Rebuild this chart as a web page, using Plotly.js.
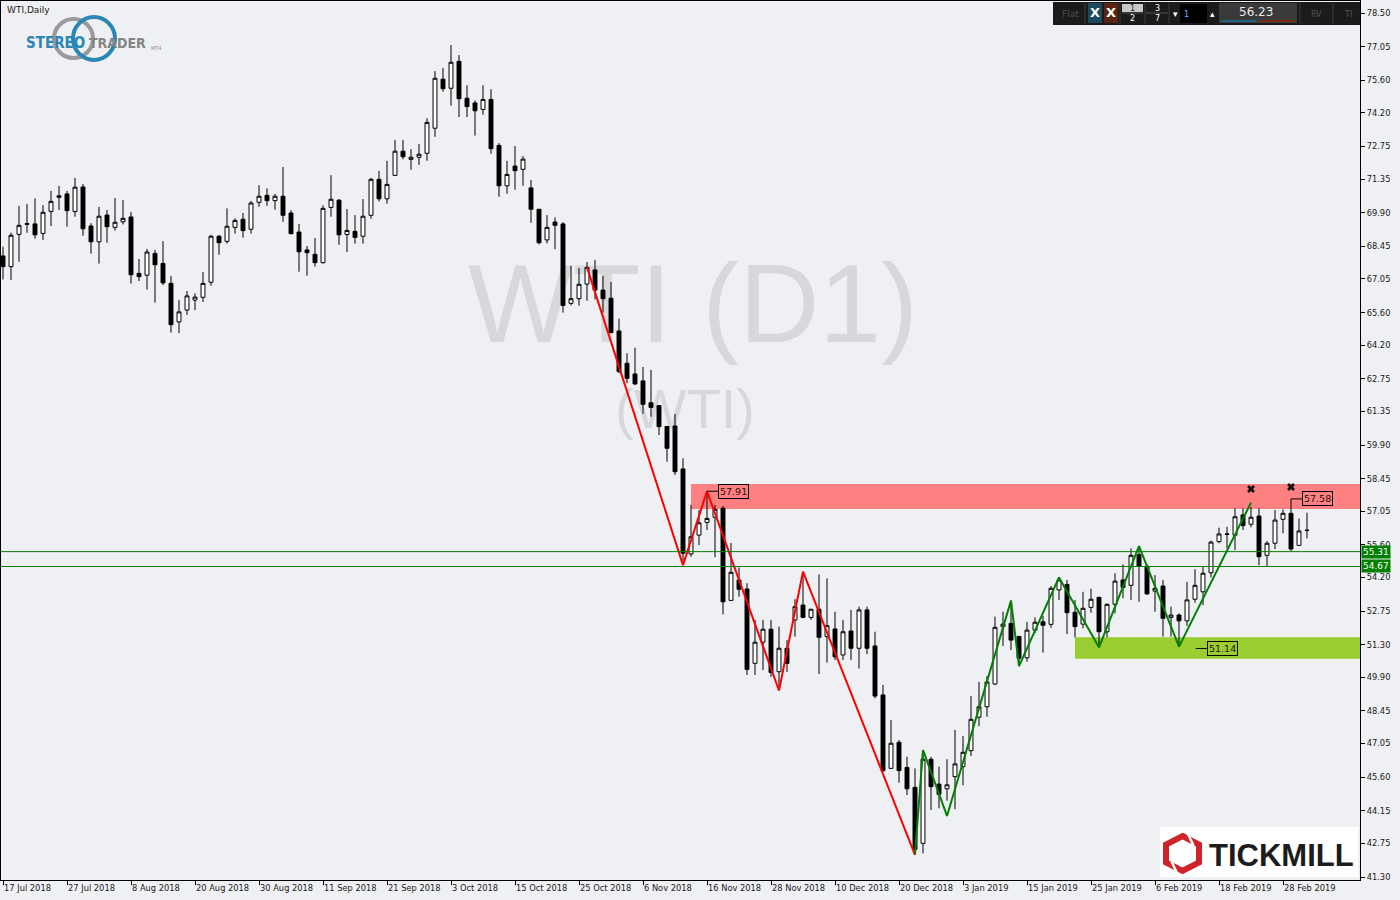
<!DOCTYPE html>
<html>
<head>
<meta charset="utf-8">
<script src="https://cdn.plot.ly/plotly-3.0.1.min.js"></script>
<style>
  html, body { margin: 0; padding: 0; background: #eff0f3; }
  #chart { width: 1400px; height: 900px; }
</style>
</head>
<body>
<div id="chart"></div>
<script>
// WTI daily candles, bar 0 = 17 Jul 2018 ... bar 163 = 5 Mar 2019
const open = [
  68.04,67.58,68.97,69.40,69.42,69.01,69.96,70.63,70.71,69.95,
  71.01,69.33,68.65,69.80,69.27,69.51,69.72,67.29,67.21,68.15,
  67.72,66.86,65.20,65.71,66.14,66.26,66.91,68.89,68.67,69.27,
  69.62,69.19,70.35,70.65,70.42,70.61,69.89,69.07,68.30,68.11,
  67.75,70.13,70.44,68.96,69.10,68.89,69.79,71.34,70.50,71.51,
  72.55,72.20,72.29,72.46,73.54,75.65,75.26,76.42,74.83,74.63,
  74.35,74.78,72.80,71.06,71.91,71.77,70.97,70.05,68.73,69.50,
  69.42,66.00,66.20,66.83,67.44,66.57,66.22,64.81,63.42,62.96,
  62.66,61.72,61.60,60.70,60.72,58.87,55.21,56.02,56.57,56.79,
  57.18,53.21,54.09,53.70,50.50,51.41,51.97,50.14,51.15,52.37,
  53.01,52.48,52.83,51.65,51.98,50.86,51.89,51.15,52.80,51.25,
  49.14,45.98,47.10,46.02,45.16,42.75,46.37,45.30,45.10,45.62,
  46.05,46.74,48.18,48.63,49.61,52.08,52.22,51.66,50.74,51.93,
  52.29,52.18,53.66,53.90,52.70,52.19,52.91,53.34,51.86,53.04,
  54.09,53.86,55.18,54.69,53.61,53.83,52.48,52.58,52.33,53.26,
  53.58,54.40,55.74,56.05,56.02,56.89,56.49,56.84,55.15,55.67,
  56.70,56.96,55.58,56.22
];
const high = [
  68.44,69.04,70.20,70.28,70.52,70.23,70.84,71.05,70.84,71.40,
  71.14,69.45,70.15,70.02,70.53,70.45,69.93,67.91,68.34,68.30,
  68.68,67.18,66.14,66.53,66.43,67.35,68.95,68.94,70.09,69.66,
  69.89,70.41,71.09,70.95,70.71,71.87,70.01,69.42,68.47,68.81,
  70.22,71.52,70.49,70.06,69.80,70.49,71.40,71.70,72.13,73.03,
  73.03,72.64,72.86,73.97,76.00,76.13,77.12,76.69,75.39,74.74,
  75.39,75.22,72.90,72.13,72.77,72.34,71.31,70.06,69.80,69.70,
  69.49,67.61,67.52,67.78,67.87,67.18,66.92,65.34,63.85,64.09,
  63.26,63.13,61.62,60.72,61.24,59.33,57.32,57.10,57.91,57.32,
  57.27,55.68,54.63,53.95,52.37,52.37,52.37,52.08,51.50,53.26,
  54.45,52.84,54.33,54.16,52.72,52.37,52.80,52.94,52.94,51.86,
  49.57,48.06,47.20,46.48,45.98,46.55,46.48,46.05,46.37,47.63,
  47.37,49.09,49.70,49.95,52.51,52.72,53.20,51.68,52.29,52.48,
  52.54,53.83,54.20,54.09,53.23,53.58,53.71,53.37,53.08,54.38,
  54.76,55.45,55.55,54.72,54.30,54.09,52.94,52.65,54.01,54.55,
  54.66,55.78,56.34,56.38,57.17,57.17,57.23,57.17,55.77,57.10,
  57.13,57.58,56.74,56.98
];
const low = [
  67.03,67.00,67.79,69.04,68.78,68.73,69.33,70.02,69.30,69.73,
  68.91,68.14,67.71,68.61,69.13,69.40,66.85,66.96,66.59,66.03,
  66.79,64.74,64.72,65.50,65.71,66.06,66.76,68.09,68.57,69.00,
  68.83,69.00,70.16,70.20,70.03,69.51,68.97,67.36,67.19,67.58,
  67.71,69.73,68.52,68.21,68.57,68.57,69.64,70.38,70.29,71.48,
  72.20,71.75,71.96,72.14,73.17,75.11,74.51,74.02,74.02,73.22,
  74.12,72.44,70.59,70.72,70.89,71.06,69.47,68.54,68.58,68.33,
  65.60,65.91,65.90,66.11,66.17,65.60,64.71,62.99,62.56,62.48,
  61.25,61.12,60.33,59.18,58.61,54.73,55.09,55.59,56.24,55.07,
  52.61,53.20,53.37,50.00,50.00,50.21,49.92,49.33,50.13,51.65,
  52.44,52.37,50.04,50.53,50.64,50.64,50.64,50.28,50.90,48.99,
  45.83,45.95,45.36,44.83,42.25,42.32,44.19,44.26,44.59,44.22,
  45.25,46.51,47.80,48.20,49.57,51.25,51.07,50.38,50.57,51.81,
  50.96,52.03,53.23,51.76,51.62,52.01,52.68,51.19,51.62,52.65,
  53.30,53.23,53.15,53.44,52.72,51.65,51.65,51.22,52.11,53.11,
  53.01,54.20,55.67,55.45,55.38,56.24,56.36,54.73,54.69,55.42,
  56.10,55.34,55.57,55.88
];
const close = [
  67.58,68.93,69.36,69.43,68.95,69.92,70.39,70.57,69.99,71.00,
  69.21,68.65,69.75,69.30,69.49,69.66,67.23,67.15,68.21,67.66,
  66.88,65.08,65.63,66.32,66.27,66.86,68.89,68.61,69.32,69.57,
  69.13,70.32,70.61,70.42,70.61,69.79,69.00,68.22,68.18,67.75,
  70.09,70.48,68.95,69.14,68.84,69.75,71.34,70.50,71.12,72.55,
  72.31,72.29,72.42,73.79,75.69,75.24,76.38,74.81,74.47,74.29,
  74.78,72.66,71.06,71.55,71.71,72.21,70.05,68.61,69.27,69.36,
  65.91,66.20,66.82,67.55,66.57,66.20,64.74,63.06,62.77,62.53,
  61.65,61.52,60.69,59.76,58.75,55.24,55.95,56.55,56.74,57.13,
  53.15,54.42,53.69,50.24,51.41,51.97,50.11,51.15,50.50,52.94,
  52.48,52.83,51.62,52.12,50.78,51.86,51.15,52.80,51.15,49.09,
  45.88,47.06,45.88,45.10,42.49,46.37,45.19,44.86,45.27,46.17,
  46.67,48.09,48.63,49.70,52.05,52.19,51.50,50.72,51.93,52.27,
  52.14,53.73,54.09,52.68,52.08,52.87,53.26,51.86,53.04,54.04,
  53.77,55.15,54.69,53.49,53.73,52.44,52.58,52.33,53.23,53.86,
  54.38,55.72,56.07,56.07,56.81,56.43,56.79,55.09,55.67,56.67,
  56.96,55.42,56.20,56.23
];
const bars = open.map((_, i) => i);

// Time axis labels, one every eighth bar
const dateTickBars = [0,8,16,24,32,40,48,56,64,72,80,88,96,104,112,120,128,136,144,152,160];
const dateTickLabels = [
  '17 Jul 2018','27 Jul 2018','8 Aug 2018','20 Aug 2018','30 Aug 2018','11 Sep 2018',
  '21 Sep 2018','3 Oct 2018','15 Oct 2018','25 Oct 2018','6 Nov 2018','16 Nov 2018',
  '28 Nov 2018','10 Dec 2018','20 Dec 2018','3 Jan 2019','15 Jan 2019','25 Jan 2019',
  '6 Feb 2019','18 Feb 2019','28 Feb 2019'
];
const priceTicks = [78.50,77.05,75.60,74.20,72.75,71.35,69.90,68.45,67.05,65.60,64.20,62.75,61.35,
  59.90,58.45,57.05,55.60,54.20,52.75,51.30,49.90,48.45,47.05,45.60,44.15,42.75,41.30];

// Swing lines
const downSwingBars = [73, 85, 88, 97, 100, 114];
const downSwingPrices = [67.55, 54.73, 57.91, 49.33, 54.45, 42.25];
const upSwingBars = [114, 115, 118, 126, 127, 132, 137, 142, 147, 156];
const upSwingPrices = [42.30, 46.77, 43.93, 53.20, 50.38, 54.20, 51.19, 55.55, 51.22, 57.42];

// Resistance / support zones and levels
const resistanceZone = [57.14, 58.22];
const resistanceStartBar = 86;
const supportZone = [50.70, 51.62];
const supportStartBar = 134;
const levelLines = [55.31, 54.67];
const crossBars = [156, 161];
const crossPrices = [58.01, 58.09];
const priceNotes = [
  {bar: 88, price: 57.91},
  {bar: 161, price: 57.58},
  {bar: 149.1, price: 51.14}
];
const lastPrice = 56.23;

// ---- geometry helpers (pixel -> paper) ----
const PL = 1, PR = 1360, PT = 1, PB = 880;
const X_RANGE = [-0.25, 169.625];
const Y_RANGE = [41.172, 79.017];
const fx = p => (p - PL) / (PR - PL);
const fy = p => (PB - p) / (PB - PT);
const BAR_PX = (PR - PL) / (X_RANGE[1] - X_RANGE[0]);

const TICK_FONT = 'DejaVu Sans, Verdana, sans-serif';
const SANS = 'Liberation Sans, Arial, sans-serif';
const NARROW = 'Liberation Sans Narrow, DejaVu Sans Condensed, sans-serif';

function rect(x0, y0, x1, y1, fill, extra) {
  return Object.assign({type: 'rect', xref: 'paper', yref: 'paper',
    x0: fx(x0), x1: fx(x1), y0: fy(y1), y1: fy(y0),
    fillcolor: fill, line: {width: 0}, layer: 'above'}, extra || {});
}
function seg(x0, y0, x1, y1, color, width) {
  return {type: 'line', xref: 'paper', yref: 'paper', x0: fx(x0), y0: fy(y0), x1: fx(x1), y1: fy(y1),
    line: {color: color, width: width}, layer: 'above'};
}
function txt(x, y, text, size, color, extra) {
  return Object.assign({xref: 'paper', yref: 'paper', x: fx(x), y: fy(y), text: text,
    showarrow: false, xanchor: 'center', yanchor: 'middle',
    font: {family: TICK_FONT, size: size, color: color}}, extra || {});
}

const shapes = [];
const annotations = [];

// Watermark (below the candles)
shapes.push({type: 'rect', xref: 'paper', yref: 'paper', layer: 'below',
  x0: fx(493), x1: fx(893), y0: fy(353), y1: fy(233), line: {width: 0}, fillcolor: 'rgba(0,0,0,0)',
  label: {text: 'WTI (D1)', textposition: 'middle center',
    font: {family: SANS, size: 111, color: '#d7d8db'}}});
shapes.push({type: 'rect', xref: 'paper', yref: 'paper', layer: 'below',
  x0: fx(605), x1: fx(765), y0: fy(436), y1: fy(371), line: {width: 0}, fillcolor: 'rgba(0,0,0,0)',
  label: {text: '(WTI)', textposition: 'middle center',
    font: {family: SANS, size: 56, color: '#d7d8db'}}});

// Zones
shapes.push({type: 'rect', xref: 'x', yref: 'y', layer: 'below',
  x0: resistanceStartBar, x1: X_RANGE[1], y0: resistanceZone[0], y1: resistanceZone[1],
  fillcolor: '#ff8080', line: {width: 0}});
shapes.push({type: 'rect', xref: 'x', yref: 'y', layer: 'below',
  x0: supportStartBar, x1: X_RANGE[1], y0: supportZone[0], y1: supportZone[1],
  fillcolor: '#9acd32', line: {width: 0}});

// Horizontal levels
levelLines.forEach(v => {
  shapes.push({type: 'line', xref: 'paper', yref: 'y', x0: 0, x1: 1, y0: v, y1: v,
    line: {color: '#008000', width: 1}, layer: 'above'});
  annotations.push({xref: 'paper', yref: 'y', x: fx(1361), y: v, xanchor: 'left', yanchor: 'middle',
    text: v.toFixed(2), showarrow: false, bgcolor: '#008000', borderpad: 1,
    font: {family: TICK_FONT, size: 9, color: '#ffffff'}});
});

// Price notes with connectors
priceNotes.forEach(n => {
  const labelBar = n.bar + 11 / BAR_PX;
  shapes.push({type: 'line', xref: 'x', yref: 'y', x0: n.bar, x1: labelBar, y0: n.price, y1: n.price,
    line: {color: '#000', width: 1}, layer: 'above'});
  annotations.push({xref: 'x', yref: 'y', x: labelBar, y: n.price, xanchor: 'left', yanchor: 'middle',
    text: n.price.toFixed(2), showarrow: false, bordercolor: '#000', borderwidth: 1, borderpad: 1,
    font: {family: TICK_FONT, size: 9.5, color: '#2a0d0d'}});
});

// Chart caption and logo, top-left
annotations.push(txt(5, 10, 'WTI,Daily', 9, '#1a1a1a', {xanchor: 'left'}));
shapes.push({type: 'circle', xref: 'paper', yref: 'paper', layer: 'above',
  x0: fx(54), x1: fx(93), y0: fy(58), y1: fy(19), line: {color: '#9a9a9a', width: 4}});
shapes.push({type: 'circle', xref: 'paper', yref: 'paper', layer: 'above',
  x0: fx(73), x1: fx(115), y0: fy(60), y1: fy(17), line: {color: '#2a86b5', width: 4}});
annotations.push(txt(87, 43, '<b>STEREO</b>', 15, '#2a86b5',
  {xanchor: 'right', font: {family: NARROW, size: 15, color: '#2a86b5'}}));
annotations.push(txt(87, 43, '<b>TRADER</b>', 14, '#858585',
  {xanchor: 'left', font: {family: NARROW, size: 14, color: '#858585'}}));
annotations.push(txt(149, 48, 'MT4', 5, '#8a8a8a', {xanchor: 'left'}));

// Trading toolbar, top-right
shapes.push(rect(1053, 2, 1360, 25, '#1b1b1b'));
shapes.push(seg(1085, 3, 1085, 24, '#3a3a3a', 1));
shapes.push(rect(1088, 3, 1102, 23, '#1d4a5e'));
shapes.push(rect(1104, 3, 1118, 23, '#5b2412'));
shapes.push(rect(1122, 4, 1143, 12, '#c8c8c8'));
shapes.push(seg(1122, 13, 1143, 13, '#555', 1));
shapes.push(seg(1146, 13, 1168, 13, '#555', 1));
shapes.push(seg(1120, 3, 1120, 24, '#3a3a3a', 1));
shapes.push(seg(1145, 3, 1145, 24, '#3a3a3a', 1));
shapes.push(seg(1169, 3, 1169, 24, '#3a3a3a', 1));
shapes.push(rect(1180, 4, 1207, 23, '#000000'));
shapes.push(rect(1219, 3, 1297, 23, '#3a3a3a'));
shapes.push(rect(1221, 20, 1256, 22, '#1f6286'));
shapes.push(rect(1260, 20, 1294, 22, '#7c2b12'));
shapes.push(seg(1300, 3, 1300, 24, '#3a3a3a', 1));
shapes.push(seg(1333, 3, 1333, 24, '#3a3a3a', 1));
annotations.push(txt(1070, 14, 'Flat', 9, '#4d4d4d'));
annotations.push(txt(1095, 13, '<b>X</b>', 13, '#ffffff'));
annotations.push(txt(1111, 13, '<b>X</b>', 13, '#ffffff'));
annotations.push(txt(1132, 8, '1', 8, '#222'));
annotations.push(txt(1132, 18, '2', 8, '#ffffff'));
annotations.push(txt(1157, 8, '3', 8, '#ffffff'));
annotations.push(txt(1157, 18, '7', 8, '#ffffff'));
annotations.push(txt(1175, 14, '▾', 9, '#ffffff'));
annotations.push(txt(1182, 14, '1', 8, '#6fb4ff', {xanchor: 'left'}));
annotations.push(txt(1212, 14, '▴', 9, '#ffffff'));
annotations.push(txt(1256, 12, lastPrice.toFixed(2), 12, '#e8e8e8'));
annotations.push(txt(1316, 14, 'RV', 8, '#555'));
annotations.push(txt(1348, 14, 'TI', 8, '#555'));

// Broker logo, bottom-right
shapes.push(rect(1160, 827, 1358, 877, '#ffffff'));
const hex = [[1182.5, 836], [1199, 844.5], [1199, 862.5], [1182.5, 871], [1166, 862.5], [1166, 844.5]];
shapes.push({type: 'path', xref: 'paper', yref: 'paper', layer: 'above',
  path: 'M' + hex.map(p => fx(p[0]) + ',' + fy(p[1])).join(' L') + ' Z',
  line: {color: '#cf2229', width: 6}, fillcolor: 'rgba(0,0,0,0)'});
shapes.push(seg(1188, 834, 1193.5, 845.5, '#ffffff', 2.5));
shapes.push(seg(1171.5, 861.5, 1177, 873, '#ffffff', 2.5));
annotations.push(txt(1281, 855, '<b>TICKMILL</b>', 31, '#1c1c1c', {font: {family: SANS, size: 31, color: '#1c1c1c'}}));

const traces = [
  {
    type: 'candlestick', x: bars, open: open, high: high, low: low, close: close,
    increasing: {line: {color: '#000000', width: 1}, fillcolor: '#ffffff'},
    decreasing: {line: {color: '#000000', width: 1}, fillcolor: '#000000'},
    whiskerwidth: 0, hoverinfo: 'skip', showlegend: false
  },
  {type: 'scatter', mode: 'lines', x: downSwingBars, y: downSwingPrices,
    line: {color: '#ff0000', width: 2}, hoverinfo: 'skip', showlegend: false},
  {type: 'scatter', mode: 'lines', x: upSwingBars, y: upSwingPrices,
    line: {color: '#008000', width: 2}, hoverinfo: 'skip', showlegend: false},
  {type: 'scatter', mode: 'markers', x: crossBars, y: crossPrices,
    marker: {symbol: 'x', size: 7, color: '#111111', line: {width: 0}},
    hoverinfo: 'skip', showlegend: false}
];

const layout = {
  width: 1400, height: 900,
  margin: {l: PL, r: 1400 - PR, t: PT, b: 900 - PB, pad: 0},
  paper_bgcolor: '#eff0f3', plot_bgcolor: '#eff0f3',
  showlegend: false, hovermode: false, dragmode: false,
  xaxis: {
    type: 'linear', range: X_RANGE, rangeslider: {visible: false},
    tickmode: 'array', tickvals: dateTickBars, ticktext: dateTickLabels,
    ticks: 'outside', ticklen: 4, tickcolor: '#000', ticklabelposition: 'outside right',
    tickfont: {family: TICK_FONT, size: 8.3, color: '#1a1a1a'},
    showgrid: false, zeroline: false, showline: true, linecolor: '#000', linewidth: 1, mirror: true,
    fixedrange: true
  },
  yaxis: {
    side: 'right', range: Y_RANGE,
    tickmode: 'array', tickvals: priceTicks, ticktext: priceTicks.map(v => v.toFixed(2)),
    ticks: 'outside', ticklen: 4, tickcolor: '#000',
    tickfont: {family: TICK_FONT, size: 8.3, color: '#1a1a1a'},
    showgrid: false, zeroline: false, showline: true, linecolor: '#000', linewidth: 1, mirror: true,
    fixedrange: true
  },
  shapes: shapes,
  annotations: annotations
};

Plotly.newPlot('chart', traces, layout, {displayModeBar: false, staticPlot: true});
</script>
</body>
</html>
